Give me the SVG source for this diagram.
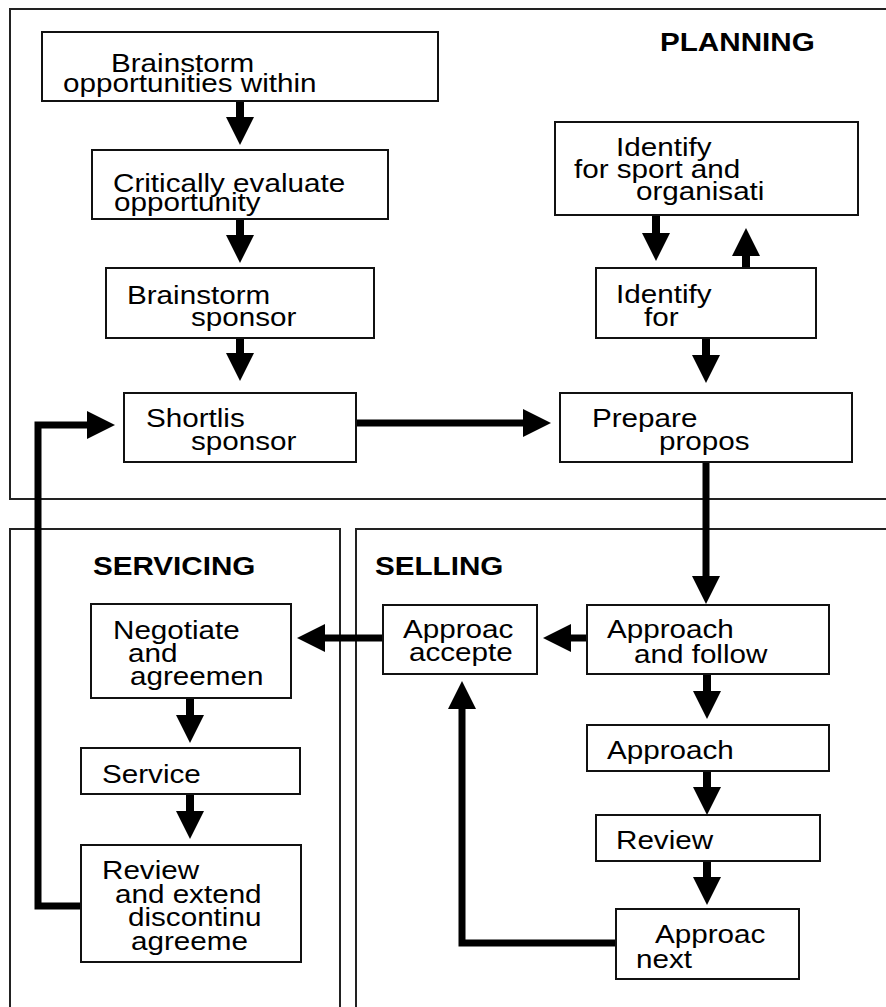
<svg xmlns="http://www.w3.org/2000/svg" width="886" height="1007" viewBox="0 0 886 1007">
<style>
.frame{fill:none;stroke:#222;stroke-width:2}
.box{fill:#fff;stroke:#111;stroke-width:2}
.t{font-family:"Liberation Sans",Arial,sans-serif;font-size:26px;fill:#000}
.h{font-family:"Liberation Sans",Arial,sans-serif;font-size:26px;font-weight:bold;fill:#000}
.c{fill:none;stroke:#000;stroke-width:8;marker-end:url(#ah)}
.f{fill:none;stroke:#000;stroke-width:7;marker-end:url(#ah)}
</style>
<defs>
<marker id="ah" markerUnits="userSpaceOnUse" markerWidth="28" markerHeight="28" viewBox="0 0 28 28" refX="0" refY="14" orient="auto">
<path d="M0,0 L28,14 L0,28 z" fill="#000"/>
</marker>
</defs>
<rect width="886" height="1007" fill="#fff"/>
<g id="frames">
<rect class="frame" x="10" y="9" width="900" height="490"/>
<rect class="frame" x="10" y="529" width="330" height="500"/>
<rect class="frame" x="356" y="529" width="560" height="500"/>
<text class="h" transform="translate(660,51) scale(1.14,1)">PLANNING</text>
<text class="h" transform="translate(93,575) scale(1.14,1)">SERVICING</text>
<text class="h" transform="translate(375,575) scale(1.14,1)">SELLING</text>
</g>
<g id="connectors">
<path class="c" d="M240,101 V117"/>
<path class="c" d="M240,219 V235"/>
<path class="c" d="M240,338 V353"/>
<path class="f" d="M356,423 H523"/>
<path class="c" d="M656,215 V233"/>
<path class="c" d="M746,268 V256"/>
<path class="c" d="M706,338 V355"/>
<path class="f" d="M706,462 V576"/>
<path class="f" d="M587,638 H571"/>
<path class="f" d="M383,638 H325"/>
<path class="c" d="M190,698 V715"/>
<path class="c" d="M190,794 V811"/>
<path class="f" d="M81,906 H38 V425 H87"/>
<path class="c" d="M707,674 V691"/>
<path class="c" d="M707,771 V787"/>
<path class="c" d="M707,861 V877"/>
<path class="f" d="M616,943 H462 V709"/>
</g>
<g id="n1"><rect class="box" x="42" y="32" width="396" height="69"/>
<text class="t" transform="translate(111,72) scale(1.14,1)">Brainstorm</text>
<text class="t" transform="translate(63,92) scale(1.14,1)">opportunities within</text></g>
<g id="n2"><rect class="box" x="92" y="150" width="296" height="69"/>
<text class="t" transform="translate(113,192) scale(1.14,1)">Critically evaluate</text>
<text class="t" transform="translate(114,211) scale(1.14,1)">opportunity</text></g>
<g id="n3"><rect class="box" x="106" y="268" width="268" height="70"/>
<text class="t" transform="translate(127,304) scale(1.14,1)">Brainstorm</text>
<text class="t" transform="translate(191,326) scale(1.14,1)">sponsor</text></g>
<g id="n4"><rect class="box" x="124" y="393" width="232" height="69"/>
<text class="t" transform="translate(146,427) scale(1.14,1)">Shortlis</text>
<text class="t" transform="translate(191,450) scale(1.14,1)">sponsor</text></g>
<g id="n5"><rect class="box" x="555" y="122" width="303" height="93"/>
<text class="t" transform="translate(616,156) scale(1.14,1)">Identify</text>
<text class="t" transform="translate(574,178) scale(1.14,1)">for sport and</text>
<text class="t" transform="translate(636,200) scale(1.14,1)">organisati</text></g>
<g id="n6"><rect class="box" x="596" y="268" width="220" height="70"/>
<text class="t" transform="translate(616,303) scale(1.14,1)">Identify</text>
<text class="t" transform="translate(644,326) scale(1.14,1)">for</text></g>
<g id="n7"><rect class="box" x="560" y="393" width="292" height="69"/>
<text class="t" transform="translate(592,427) scale(1.14,1)">Prepare</text>
<text class="t" transform="translate(659,450) scale(1.14,1)">propos</text></g>
<g id="n8"><rect class="box" x="587" y="605" width="242" height="69"/>
<text class="t" transform="translate(607,638) scale(1.14,1)">Approach</text>
<text class="t" transform="translate(634,663) scale(1.14,1)">and follow</text></g>
<g id="n9"><rect class="box" x="383" y="605" width="154" height="69"/>
<text class="t" transform="translate(403,638) scale(1.14,1)">Approac</text>
<text class="t" transform="translate(409,661) scale(1.14,1)">accepte</text></g>
<g id="n10"><rect class="box" x="91" y="604" width="200" height="94"/>
<text class="t" transform="translate(113,639) scale(1.14,1)">Negotiate</text>
<text class="t" transform="translate(128,662) scale(1.14,1)">and</text>
<text class="t" transform="translate(130,685) scale(1.14,1)">agreemen</text></g>
<g id="n11"><rect class="box" x="81" y="748" width="219" height="46"/>
<text class="t" transform="translate(102,783) scale(1.14,1)">Service</text></g>
<g id="n12"><rect class="box" x="81" y="845" width="220" height="117"/>
<text class="t" transform="translate(102,879) scale(1.14,1)">Review</text>
<text class="t" transform="translate(115,903) scale(1.14,1)">and extend</text>
<text class="t" transform="translate(128,926) scale(1.14,1)">discontinu</text>
<text class="t" transform="translate(131,950) scale(1.14,1)">agreeme</text></g>
<g id="n13"><rect class="box" x="587" y="725" width="242" height="46"/>
<text class="t" transform="translate(607,759) scale(1.14,1)">Approach</text></g>
<g id="n14"><rect class="box" x="596" y="815" width="224" height="46"/>
<text class="t" transform="translate(616,849) scale(1.14,1)">Review</text></g>
<g id="n15"><rect class="box" x="616" y="909" width="183" height="70"/>
<text class="t" transform="translate(655,943) scale(1.14,1)">Approac</text>
<text class="t" transform="translate(636,968) scale(1.14,1)">next</text></g>
</svg>
